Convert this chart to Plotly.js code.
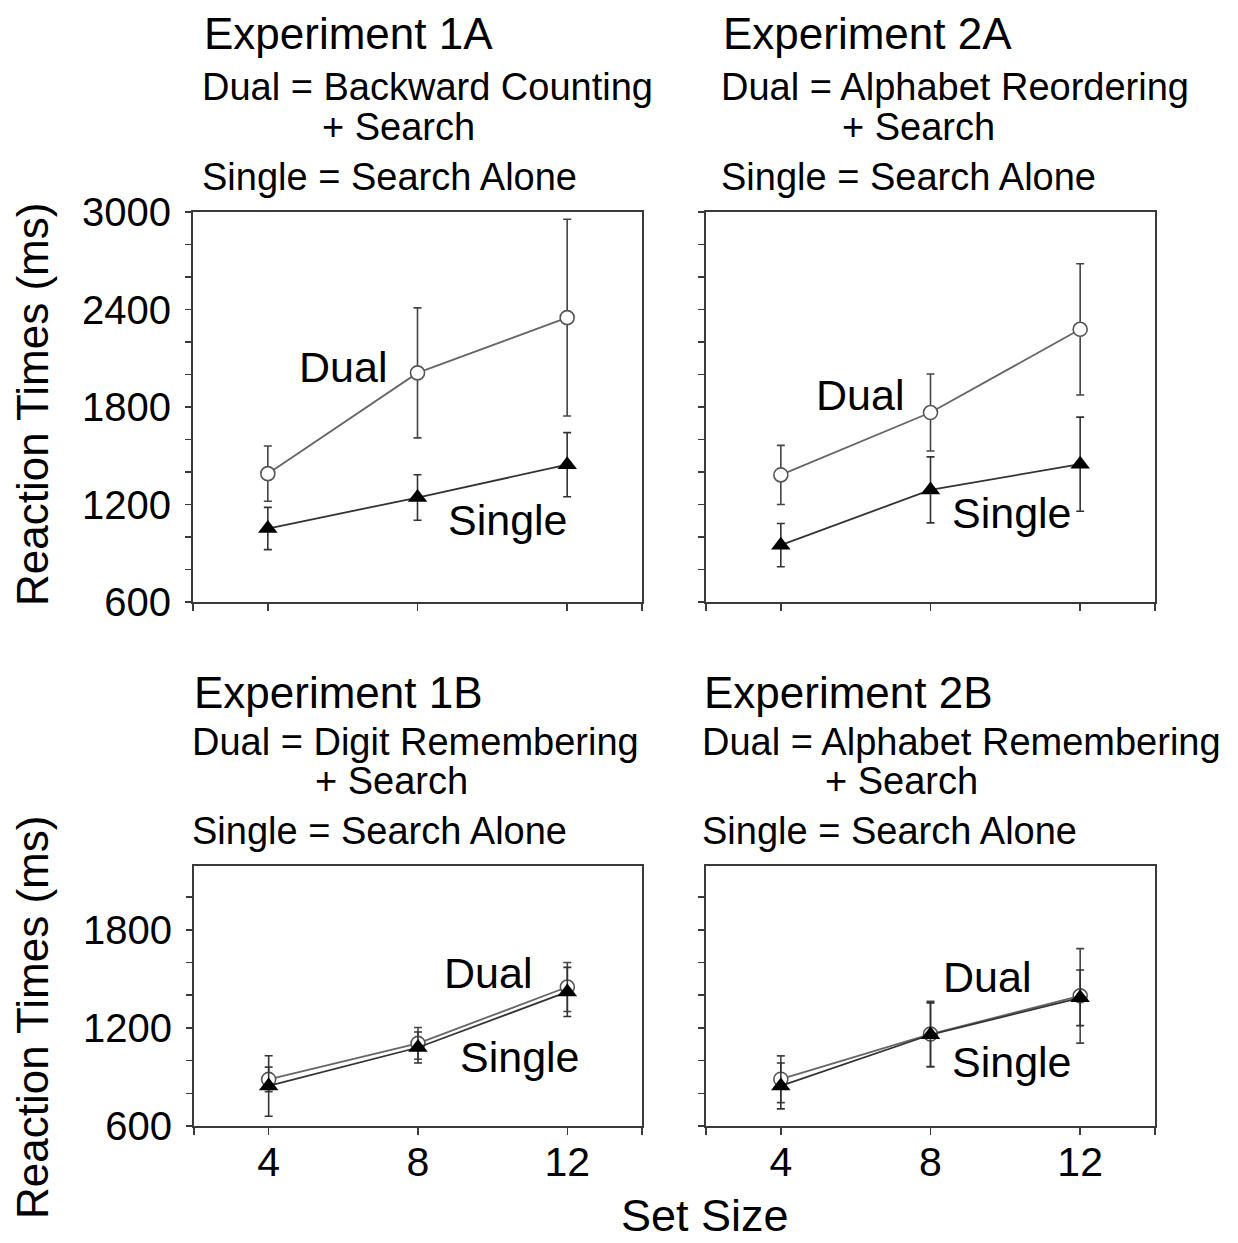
<!DOCTYPE html>
<html>
<head>
<meta charset="utf-8">
<script src="https://cdn.plot.ly/plotly-3.0.1.min.js"></script>
<style>html,body{margin:0;padding:0;background:#fff;}#chart{width:1238px;height:1243px;}</style>
</head>
<body>
<div id="chart"></div>
<script>
// ---------------- DATA ----------------
const setSizes = [4, 8, 12];

const exp1A_dual = [1390, 2010, 2350];
const exp1A_dualErr = [170, 400, 605];
const exp1A_single = [1052, 1243, 1445];
const exp1A_singleErr = [130, 140, 197];

const exp2A_dual = [1382, 1766, 2278];
const exp2A_dualErr = [182, 237, 404];
const exp2A_single = [950, 1290, 1448];
const exp2A_singleErr = [133, 203, 290];

const exp1B_dual = [885, 1105, 1450];
const exp1B_dualErr = [75, 97, 150];
const exp1B_single = [845, 1080, 1420];
const exp1B_singleErr = [185, 95, 150];

const exp2B_dual = [886, 1162, 1396];
const exp2B_dualErr = [143, 200, 289];
const exp2B_single = [845, 1158, 1384];
const exp2B_singleErr = [140, 195, 170];

const expTitles = ['Experiment 1A', 'Experiment 2A', 'Experiment 1B', 'Experiment 2B'];
const dualDescs = ['Dual = Backward Counting', 'Dual = Alphabet Reordering', 'Dual = Digit Remembering', 'Dual = Alphabet Remembering'];
const plusSearch = '+ Search';
const singleDesc = 'Single = Search Alone';
const dualLabel = 'Dual';
const singleLabel = 'Single';

const xTickLabels = ['4', '8', '12'];
const yTickLabelsTop = ['600', '1200', '1800', '2400', '3000'];
const yTickLabelsBottom = ['600', '1200', '1800'];
const yTitle = 'Reaction Times (ms)';
const xTitle = 'Set Size';

// ---------------- LAYOUT HELPERS ----------------
const W = 1238, H = 1243;
const fx = p => p / W;
const fy = p => 1 - p / H;
const FONT = '"Liberation Sans", Arial, Helvetica, sans-serif';
const AXC = '#3a3a3a';

const panels = [
  {dual: exp1A_dual, dErr: exp1A_dualErr, single: exp1A_single, sErr: exp1A_singleErr,
   box: [193, 642, 212, 602], yr: [600, 3000], yLabels: yTickLabelsTop, showX: false,
   txt: {left: 200, title: 33, dual: 87, plus: 127, plusLeft: 320, single: 177},
   dualPos: [343, 367], singlePos: [508, 520]},
  {dual: exp2A_dual, dErr: exp2A_dualErr, single: exp2A_single, sErr: exp2A_singleErr,
   box: [706, 1155, 212, 602], yr: [600, 3000], yLabels: [], showX: false,
   txt: {left: 719, title: 33, dual: 87, plus: 127, plusLeft: 840, single: 177},
   dualPos: [860, 395], singlePos: [1012, 513]},
  {dual: exp1B_dual, dErr: exp1B_dualErr, single: exp1B_single, sErr: exp1B_singleErr,
   box: [194, 642, 866, 1126], yr: [600, 2190], yLabels: yTickLabelsBottom, showX: true,
   txt: {left: 190, title: 692, dual: 742, plus: 781, plusLeft: 313, single: 831},
   dualPos: [488, 973], singlePos: [520, 1057]},
  {dual: exp2B_dual, dErr: exp2B_dualErr, single: exp2B_single, sErr: exp2B_singleErr,
   box: [706, 1155, 866, 1126], yr: [600, 2190], yLabels: [], showX: true,
   txt: {left: 700, title: 692, dual: 742, plus: 781, plusLeft: 823, single: 831},
   dualPos: [987, 977], singlePos: [1012, 1062]}
];

const traces = [];
const layout = {
  width: W, height: H,
  margin: {l: 0, r: 0, t: 0, b: 0},
  paper_bgcolor: '#fff', plot_bgcolor: '#fff',
  showlegend: false,
  font: {family: FONT, color: '#000'},
  annotations: []
};

function ann(text, x, y, size, opts) {
  return Object.assign({
    text: text, xref: 'paper', yref: 'paper', x: fx(x), y: fy(y),
    xanchor: 'left', yanchor: 'middle', showarrow: false,
    font: {family: FONT, size: size, color: '#000'}
  }, opts || {});
}

panels.forEach((p, i) => {
  const n = i + 1;
  const xa = n === 1 ? 'x' : 'x' + n;
  const ya = n === 1 ? 'y' : 'y' + n;
  const xk = n === 1 ? 'xaxis' : 'xaxis' + n;
  const yk = n === 1 ? 'yaxis' : 'yaxis' + n;

  traces.push({
    x: setSizes, y: p.dual, xaxis: xa, yaxis: ya, type: 'scatter', mode: 'lines+markers',
    line: {color: '#666', width: 1.8},
    marker: {symbol: 'circle', size: 14, color: '#fff', line: {color: '#555', width: 1.6}},
    error_y: {type: 'data', array: p.dErr, visible: true, color: '#444', thickness: 1.6, width: 4},
    cliponaxis: false
  });
  traces.push({
    x: setSizes, y: p.single, xaxis: xa, yaxis: ya, type: 'scatter', mode: 'lines+markers',
    line: {color: '#333', width: 1.8},
    marker: {symbol: 'triangle-up', size: 17, color: '#000', line: {color: '#000', width: 0}},
    error_y: {type: 'data', array: p.sErr, visible: true, color: '#333', thickness: 1.6, width: 4},
    cliponaxis: false
  });

  // y ticks every 200
  const yvals = [], ytext = [];
  for (let v = p.yr[0]; v <= p.yr[1] + 1; v += 200) {
    yvals.push(v);
    const lbl = String(v);
    ytext.push(p.yLabels.indexOf(lbl) >= 0 ? lbl : '');
  }
  const xvals = [2, 4, 8, 12, 14];
  const xtext = p.showX ? ['', xTickLabels[0], xTickLabels[1], xTickLabels[2], ''] : ['', '', '', '', ''];

  layout[xk] = {
    domain: [fx(p.box[0]), fx(p.box[1])], anchor: ya, range: [2, 14],
    showgrid: false, zeroline: false, showline: true, linecolor: AXC, linewidth: 2, mirror: true,
    ticks: 'outside', ticklen: 7, tickwidth: 1.5, tickcolor: AXC,
    tickmode: 'array', tickvals: xvals, ticktext: xtext, ticklabelstandoff: -8,
    tickfont: {family: FONT, size: 41, color: '#000'}, fixedrange: true
  };
  layout[yk] = {
    domain: [fy(p.box[3]), fy(p.box[2])], anchor: xa, range: p.yr,
    showgrid: false, zeroline: false, showline: true, linecolor: AXC, linewidth: 2, mirror: true,
    ticks: 'outside', ticklen: 6, tickwidth: 1.5, tickcolor: AXC,
    tickmode: 'array', tickvals: yvals, ticktext: ytext, ticklabelstandoff: 6,
    tickfont: {family: FONT, size: 40, color: '#000'}, fixedrange: true
  };

  const t = p.txt;
  layout.annotations.push(ann(expTitles[i], t.left + 2, t.title, 44));
  layout.annotations.push(ann(dualDescs[i], t.left, t.dual, 38));
  layout.annotations.push(ann(plusSearch, t.plusLeft, t.plus, 38));
  layout.annotations.push(ann(singleDesc, t.left, t.single, 38));
  layout.annotations.push(ann(dualLabel, p.dualPos[0], p.dualPos[1], 43, {xanchor: 'center'}));
  layout.annotations.push(ann(singleLabel, p.singlePos[0], p.singlePos[1], 43, {xanchor: 'center'}));
});

layout.annotations.push(ann(yTitle, 32, 405, 44, {xanchor: 'center', textangle: -90}));
layout.annotations.push(ann(yTitle, 32, 1018, 44, {xanchor: 'center', textangle: -90}));
layout.annotations.push(ann(xTitle, 705, 1215, 45, {xanchor: 'center'}));

Plotly.newPlot('chart', traces, layout, {staticPlot: true, displayModeBar: false});
</script>
</body>
</html>
